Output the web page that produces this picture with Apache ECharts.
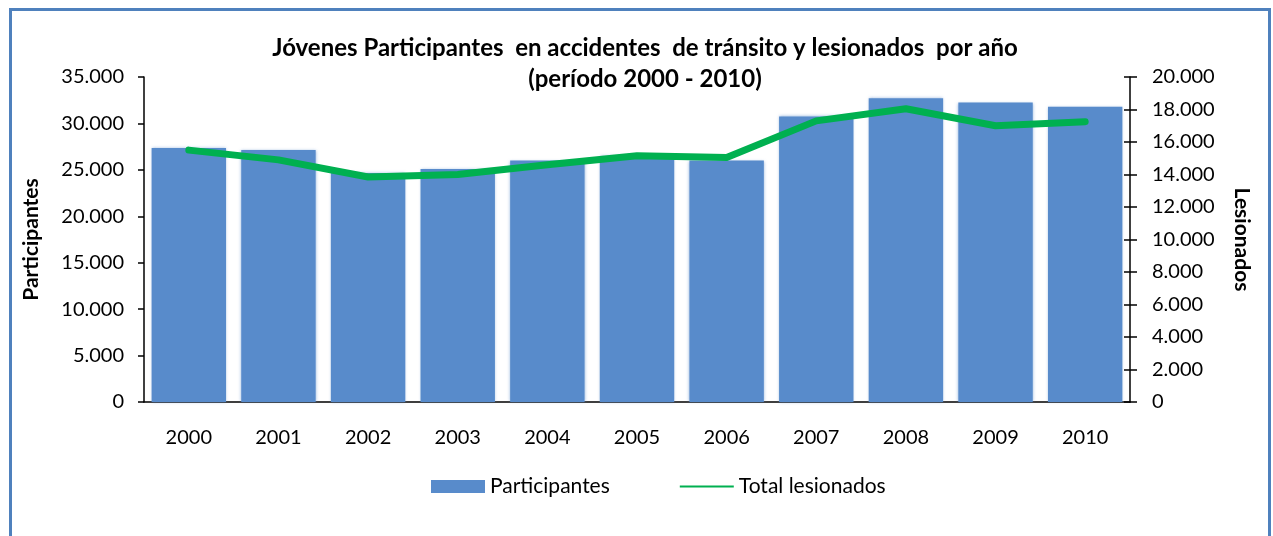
<!DOCTYPE html>
<html>
<head>
<meta charset="utf-8">
<script src="https://cdn.jsdelivr.net/npm/echarts@6/dist/echarts.min.js"></script>
<style>
  html, body { margin: 0; padding: 0; background: #fff; }
  #main { width: 1273px; height: 536px; }
</style>
</head>
<body>
<div id="main"></div>
<script>
var years = ['2000', '2001', '2002', '2003', '2004', '2005', '2006', '2007', '2008', '2009', '2010'];
var participantes = [27350, 27150, 24650, 25100, 26000, 26450, 26000, 30750, 32700, 32250, 31800];
var lesionados = [15500, 14900, 13850, 14000, 14600, 15150, 15050, 17300, 18050, 17000, 17250];

var FONT = 'Lato, "Open Sans", sans-serif';

function miles(v) {
    return String(v).replace(/\B(?=(\d{3})+(?!\d))/g, '.');
}

var myChart = echarts.init(document.getElementById('main'));

var option = {
    animation: false,
    textStyle: { fontFamily: FONT },
    title: {
        text: 'Jóvenes Participantes  en accidentes  de tránsito y lesionados  por año\n(período 2000 - 2010)',
        left: 640,
        textAlign: 'center',
        top: 28,
        textStyle: { fontSize: 24, fontWeight: 'bold', color: '#000', lineHeight: 31, fontFamily: FONT }
    },
    graphic: [{
        type: 'rect',
        shape: { x: 10.5, y: 9.5, width: 1259, height: 600 },
        style: { fill: null, stroke: '#4f81bd', lineWidth: 3 },
        silent: true
    }],
    legend: {
        left: 426,
        top: 471,
        itemGap: 70,
        itemWidth: 54,
        itemHeight: 13,
        textStyle: { fontSize: 21, color: '#000', fontFamily: FONT },
        data: [
            { name: 'Participantes', icon: 'rect' },
            { name: 'Total lesionados', icon: 'path://M0,0H50V2H0Z' }
        ]
    },
    grid: { left: 144, right: 143, top: 77, bottom: 134 },
    xAxis: {
        type: 'category',
        data: years,
        axisLine: { lineStyle: { color: '#000', width: 1.5 } },
        axisTick: { show: false },
        axisLabel: { fontSize: 20, color: '#000', margin: 26 }
    },
    yAxis: [{
        type: 'value',
        min: 0, max: 35000, interval: 5000,
        name: 'Participantes',
        nameLocation: 'middle',
        nameGap: 102,
        nameRotate: 90,
        nameTextStyle: { fontSize: 21, fontWeight: 'bold', color: '#000' },
        axisLine: { show: true, lineStyle: { color: '#000', width: 1.5 } },
        axisTick: { show: true, length: 6, lineStyle: { color: '#000', width: 1.5 } },
        axisLabel: { fontSize: 20, color: '#000', margin: 20, formatter: miles },
        splitLine: { show: false }
    }, {
        type: 'value',
        min: 0, max: 20000, interval: 2000,
        position: 'right',
        name: 'Lesionados',
        nameLocation: 'middle',
        nameGap: 101,
        nameRotate: -90,
        nameTextStyle: { fontSize: 21, fontWeight: 'bold', color: '#000' },
        axisLine: { show: true, lineStyle: { color: '#000', width: 1.5 } },
        axisTick: { show: true, length: 7, lineStyle: { color: '#000', width: 1.5 } },
        axisLabel: { fontSize: 20, color: '#000', margin: 22, formatter: miles },
        splitLine: { show: false }
    }, {
        // ticks crossing into the plot on the right axis
        type: 'value',
        min: 0, max: 20000, interval: 2000,
        position: 'right',
        axisLine: { show: false },
        axisTick: { show: true, inside: true, length: 6, lineStyle: { color: '#000', width: 1.5 } },
        axisLabel: { show: false },
        splitLine: { show: false }
    }],
    series: [{
        name: 'Participantes',
        type: 'bar',
        yAxisIndex: 0,
        data: participantes,
        barCategoryGap: '17%',
        itemStyle: { color: '#588bcb', shadowColor: 'rgba(88,139,203,0.6)', shadowBlur: 3 }
    }, {
        name: 'Total lesionados',
        type: 'line',
        yAxisIndex: 1,
        data: lesionados,
        symbol: 'none',
        itemStyle: { color: '#00b050' },
        lineStyle: { color: '#00b050', width: 7, cap: 'round', join: 'round' },
        z: 3
    }]
};

myChart.setOption(option);
</script>
</body>
</html>
